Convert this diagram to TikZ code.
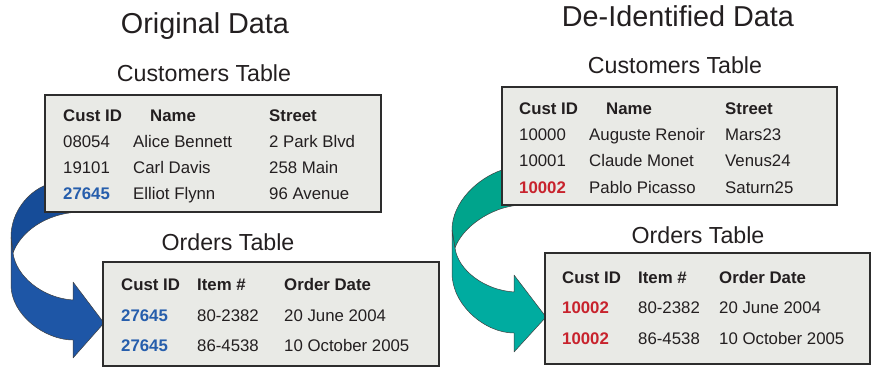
\documentclass[tikz,border=0pt]{standalone}
\usepackage{fontspec}
\setmainfont{Liberation Sans}
\definecolor{boxfill}{RGB}{233,234,230}
\definecolor{boxdraw}{RGB}{45,45,45}
\definecolor{txt}{RGB}{35,31,32}
\definecolor{idblue}{RGB}{38,94,172}
\definecolor{idred}{RGB}{200,35,45}
\definecolor{blueup}{RGB}{22,76,152}
\definecolor{bluelo}{RGB}{30,86,166}
\definecolor{tealup}{RGB}{0,164,140}
\definecolor{teallo}{RGB}{0,172,160}
\tikzset{
  tbox/.style={draw=boxdraw, fill=boxfill, line width=1.5pt, inner sep=0pt, outer sep=0pt, anchor=north west},
  cell/.style={anchor=base west, inner sep=0pt, text=txt, font=\fontsize{16.8}{18}\selectfont},
  head/.style={cell, font=\fontsize{16.8}{18}\selectfont\bfseries},
  bid/.style={cell, font=\fontsize{16.8}{18}\selectfont\bfseries, text=idblue},
  rid/.style={cell, font=\fontsize{16.8}{18}\selectfont\bfseries, text=idred},
  ttl/.style={anchor=base, inner sep=0pt, text=txt, font=\fontsize{23.2}{26}\selectfont},
  bigttl/.style={anchor=base, inner sep=0pt, text=txt, font=\fontsize{28.8}{32}\selectfont},
  rib/.style={draw=black!75, line width=0.5pt, line join=round}
}
\begin{document}
\begin{tikzpicture}[x=1pt,y=-1pt]
\useasboundingbox (0,0) rectangle (871,372);

% ---- arrows (drawn first, boxes cover their starts)
\filldraw[rib, fill=blueup] (46,185) .. controls (28,192) and (11,212) .. (11,237) -- (13,253) .. controls (20,233) and (45,213) .. (80,212) -- (80,185) -- cycle;
\filldraw[rib, fill=bluelo] (11,237) -- (11,285) .. controls (11,315) and (45,340) .. (73,340) -- (73,358) -- (104,323) -- (73,282) -- (73,300) .. controls (42,298) and (16,276) .. (13,253) -- cycle;

\filldraw[rib, fill=tealup] (502,170) .. controls (478,178) and (452,202) .. (452,230) -- (455,248) .. controls (462,228) and (490,207) .. (520,205) -- (520,170) -- cycle;
\filldraw[rib, fill=teallo] (452,230) -- (452,273) .. controls (452,305) and (485,333) .. (514,333) -- (514,352) -- (546,317) -- (514,275) -- (514,292) .. controls (484,290) and (458,270) .. (455,248) -- cycle;

% ---- titles
\node[bigttl] (t1) at (205,33) {Original Data};
\node[bigttl] (t2) at (678,26) {De-Identified Data};
\node[ttl] (c1) at (204,81) {Customers Table};
\node[ttl] (c2) at (675,73) {Customers Table};
\node[ttl] (o1) at (228,250) {Orders Table};
\node[ttl] (o2) at (698,243) {Orders Table};

% ---- boxes
\node[tbox, minimum width=336pt, minimum height=117pt] (lc) at (45,95) {};
\node[tbox, minimum width=336pt, minimum height=104pt] (lo) at (103,262) {};
\node[tbox, minimum width=335pt, minimum height=118pt] (rc) at (502,87) {};
\node[tbox, minimum width=325pt, minimum height=111pt] (ro) at (545,253) {};

% ---- left customers
\node[head] (lch1) at (63,121) {Cust ID};
\node[head] (lch2) at (150,121) {Name};
\node[head] (lch3) at (269,121) {Street};
\node[cell] (l11) at (63,147) {08054};
\node[cell] (l12) at (133,147) {Alice Bennett};
\node[cell] (l13) at (269,147) {2 Park Blvd};
\node[cell] (l21) at (63,173) {19101};
\node[cell] (l22) at (133,173) {Carl Davis};
\node[cell] (l23) at (269,173) {258 Main};
\node[bid] (l31) at (63,199) {27645};
\node[cell] (l32) at (133,199) {Elliot Flynn};
\node[cell] (l33) at (269,199) {96 Avenue};

% ---- left orders
\node[head] (loh1) at (121,290) {Cust ID};
\node[head] (loh2) at (197,290) {Item \#};
\node[head] (loh3) at (284,290) {Order Date};
\node[bid] (lo11) at (121,321) {27645};
\node[cell] (lo12) at (197,321) {80-2382};
\node[cell] (lo13) at (284,321) {20 June 2004};
\node[bid] (lo21) at (121,351) {27645};
\node[cell] (lo22) at (197,351) {86-4538};
\node[cell] (lo23) at (284,351) {10 October 2005};

% ---- right customers
\node[head] (rch1) at (519,114) {Cust ID};
\node[head] (rch2) at (606,114) {Name};
\node[head] (rch3) at (725,114) {Street};
\node[cell] (r11) at (519,140) {10000};
\node[cell] (r12) at (589,140) {Auguste Renoir};
\node[cell] (r13) at (725,140) {Mars23};
\node[cell] (r21) at (519,166) {10001};
\node[cell] (r22) at (589,166) {Claude Monet};
\node[cell] (r23) at (725,166) {Venus24};
\node[rid] (r31) at (519,193) {10002};
\node[cell] (r32) at (589,193) {Pablo Picasso};
\node[cell] (r33) at (725,193) {Saturn25};

% ---- right orders
\node[head] (roh1) at (562,283) {Cust ID};
\node[head] (roh2) at (638,283) {Item \#};
\node[head] (roh3) at (719,283) {Order Date};
\node[rid] (ro11) at (562,313) {10002};
\node[cell] (ro12) at (638,313) {80-2382};
\node[cell] (ro13) at (719,313) {20 June 2004};
\node[rid] (ro21) at (562,344) {10002};
\node[cell] (ro22) at (638,344) {86-4538};
\node[cell] (ro23) at (719,344) {10 October 2005};
\end{tikzpicture}
\end{document}
